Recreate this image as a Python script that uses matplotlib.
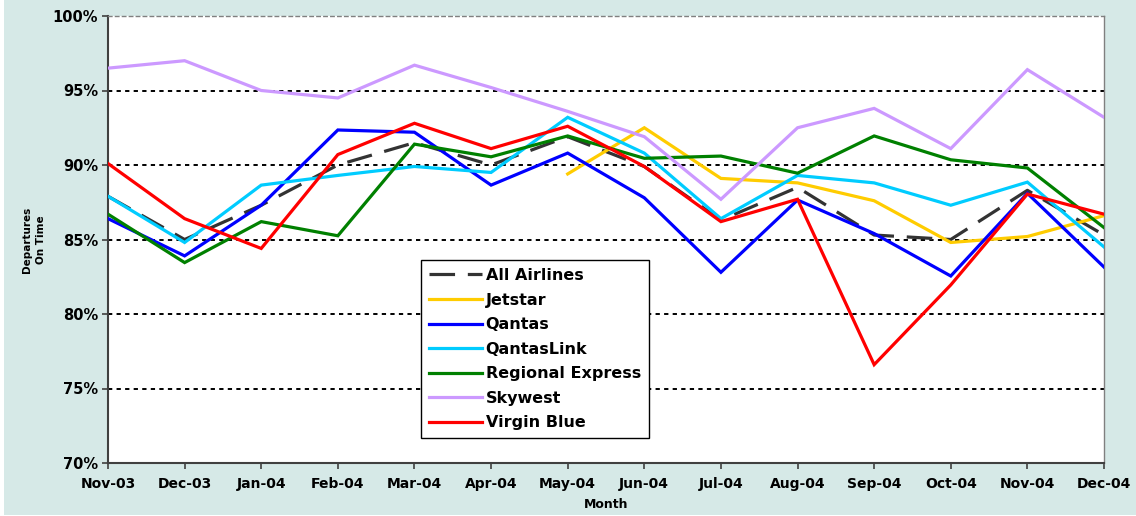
import numpy as np
import matplotlib
matplotlib.use("Agg")
import matplotlib.pyplot as plt
from matplotlib.patches import Rectangle

plt.rcParams['font.family'] = ['DejaVu Sans']

# --- data (percent departures on time) ---
months = ['Nov-03', 'Dec-03', 'Jan-04', 'Feb-04', 'Mar-04', 'Apr-04', 'May-04',
          'Jun-04', 'Jul-04', 'Aug-04', 'Sep-04', 'Oct-04', 'Nov-04', 'Dec-04']
all_airlines = [87.9, 85.0, 87.3, 90.0, 91.5, 90.0, 91.9, 89.9, 86.3, 88.5, 85.3, 85.0, 88.3, 85.3]
jetstar = [np.nan, np.nan, np.nan, np.nan, np.nan, np.nan, 89.4, 92.5, 89.1, 88.8, 87.6, 84.8, 85.2, 86.6]
qantas = [86.4, 83.9, 87.3, 92.35, 92.2, 88.65, 90.8, 87.8, 82.8, 87.65, 85.4, 82.55, 88.1, 83.15]
qantaslink = [87.9, 84.8, 88.65, 89.3, 89.9, 89.5, 93.2, 90.8, 86.4, 89.3, 88.8, 87.3, 88.85, 84.5]
regional_express = [86.7, 83.45, 86.2, 85.25, 91.4, 90.55, 91.95, 90.45, 90.6, 89.45, 91.95, 90.35, 89.8, 85.8]
skywest = [96.5, 97.0, 95.0, 94.5, 96.7, 95.2, 93.6, 91.9, 87.7, 92.5, 93.8, 91.1, 96.4, 93.2]
virgin_blue = [90.1, 86.4, 84.4, 90.7, 92.8, 91.1, 92.6, 89.9, 86.2, 87.7, 76.6, 81.95, 88.05, 86.7]

series = [
    ('All Airlines', all_airlines, '#333333'),
    ('Jetstar', jetstar, '#ffcc00'),
    ('Qantas', qantas, '#0000ff'),
    ('QantasLink', qantaslink, '#00ccff'),
    ('Regional Express', regional_express, '#008000'),
    ('Skywest', skywest, '#cc99ff'),
    ('Virgin Blue', virgin_blue, '#ff0000'),
]

W, H = 1136, 516
fig = plt.figure(figsize=(W / 100, H / 100), dpi=100)
fig.patch.set_facecolor('white')
fig.add_artist(Rectangle((4 / W, 1 / H), 1, 1, transform=fig.transFigure,
                         facecolor='#d6e9e7', edgecolor='none', zorder=-10))

ax = fig.add_axes([108 / W, (H - 463) / H, 996 / W, 447 / H])
ax.set_facecolor('white')

x = np.arange(len(months))
for name, vals, col in series:
    v = np.array(vals, dtype=float)
    if name == 'All Airlines':
        ax.plot(x, v, color=col, lw=2.3, dashes=(8, 4), label=name, zorder=3)
    else:
        ax.plot(x, v, color=col, lw=2.3, label=name, zorder=3,
                solid_joinstyle='miter')

ax.set_xlim(0, len(months) - 1)
ax.set_ylim(70, 100)
ax.set_yticks([70, 75, 80, 85, 90, 95, 100])
ax.set_yticklabels([f'{t}%' for t in [70, 75, 80, 85, 90, 95, 100]],
                   fontsize=10.5, fontweight='bold')
ax.set_xticks(x)
ax.set_xticklabels(months, fontsize=10, fontweight='bold')

for g in [75, 80, 85, 90, 95]:
    ax.axhline(g, color='black', lw=1.4, dashes=(2.2, 2.2), zorder=1)

for s in ['left', 'bottom']:
    ax.spines[s].set_color('#404040')
    ax.spines[s].set_linewidth(1.5)
ax.spines['right'].set_color('#808080')
ax.spines['right'].set_linewidth(1.0)
ax.spines['top'].set_color('#808080')
ax.spines['top'].set_linewidth(1.0)
ax.spines['top'].set_linestyle((0, (2.5, 2.5)))

ax.tick_params(axis='both', direction='out', length=4, width=1.2, color='#404040')
ax.tick_params(axis='x', pad=6)
ax.tick_params(axis='y', pad=3)

fig.text(34 / W, 1 - 240 / H, 'Departures\nOn Time', rotation=90, ha='center',
         va='center', fontsize=7.5, fontweight='bold', linespacing=1.6)
fig.text(606 / W, 1 - 504 / H, 'Month', ha='center', va='center',
         fontsize=9, fontweight='bold')

leg = ax.legend(loc='upper left', bbox_to_anchor=((421 - 108) / 996, (463 - 260) / 447),
                borderaxespad=0, fancybox=False, edgecolor='black', framealpha=1,
                prop={'weight': 'bold', 'size': 11.5}, handlelength=3.3,
                handletextpad=0.25, labelspacing=0.6, borderpad=0.5)
leg.get_frame().set_linewidth(1.0)

fig.savefig('out.png', dpi=100, facecolor=fig.get_facecolor())
